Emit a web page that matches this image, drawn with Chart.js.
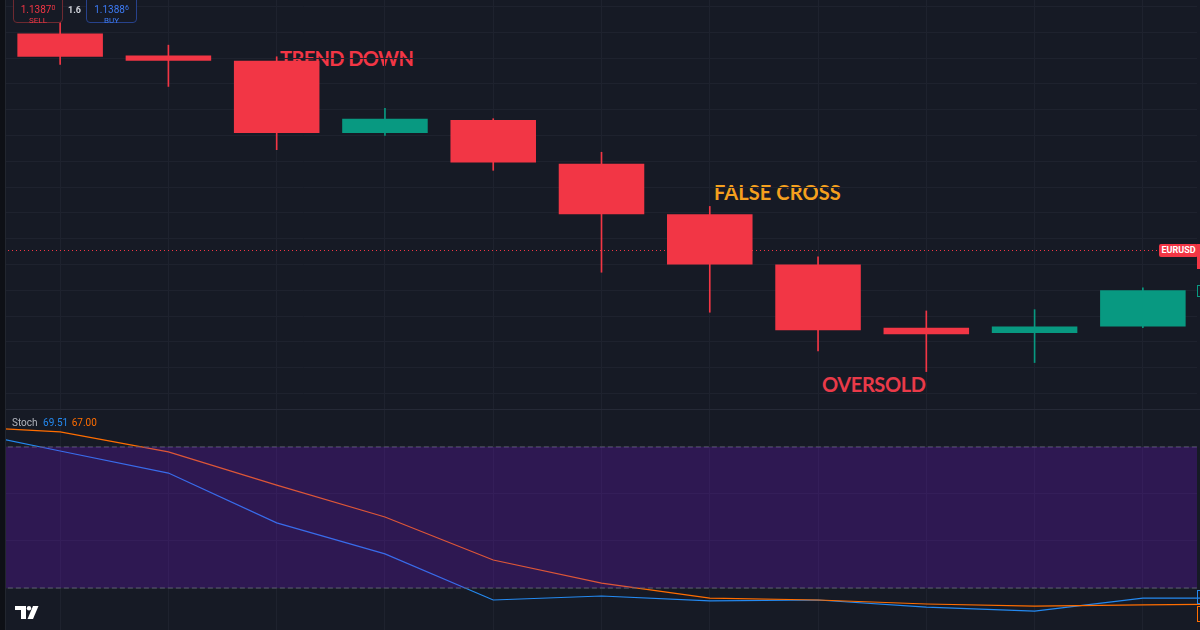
<!DOCTYPE html>
<html>
<head>
<meta charset="utf-8">
<script src="https://cdn.jsdelivr.net/npm/chart.js@4"></script>
<style>
  html, body { margin: 0; padding: 0; }
  body { width: 1200px; height: 630px; background: #161a25; position: relative; overflow: hidden; font-family: Roboto, sans-serif; }
  .painel { position: absolute; left: 0; width: 1200px; z-index: 1; }
  #painelPreco { top: 0; height: 409px; }
  #painelStoch { top: 410px; height: 220px; }
  .sep { position: absolute; left: 0; top: 409px; width: 1200px; height: 1px; background: #252936; }
  .nota { position: absolute; z-index: 0; font-family: Lato, sans-serif; font-weight: 700; font-size: 20px; line-height: 20px; white-space: nowrap; }
  .caixa { position: absolute; top: -6px; height: 27px; border: 1px solid; border-radius: 0 0 4px 4px; text-align: center; z-index: 2; background: #161a25; }
  .caixa .v { font-size: 10px; line-height: 10px; margin-top: 8px; }
  .caixa .v sup { font-size: 7px; vertical-align: 3px; }
  .caixa .t { font-size: 8px; line-height: 9px; margin-top: 1px; }
  .cima { position: absolute; z-index: 2; }
</style>
</head>
<body>

<div class="nota" style="left:280px; top:48px; color:#f23645; letter-spacing:-0.6px;">TREND DOWN</div>
<div class="nota" style="left:714px; top:182px; color:#f5a01e; letter-spacing:0.1px;">FALSE CROSS</div>
<div class="nota" style="left:822px; top:374px; color:#ea3a49; letter-spacing:-0.4px;">OVERSOLD</div>

<div class="painel" id="painelPreco"><canvas id="grafPreco"></canvas></div>
<div class="sep"></div>
<div class="painel" id="painelStoch"><canvas id="grafStoch"></canvas></div>

<!-- botoes de ordem -->
<div class="caixa" style="left:13px; width:48px; border-color:#6e2a31; color:#f23645;">
  <div class="v">1.1387<sup>0</sup></div><div class="t">SELL</div>
</div>
<div class="cima" style="left:68px; top:5px; font-size:9px; font-weight:700; color:#d1d4dc;">1.6</div>
<div class="caixa" style="left:86px; width:49px; border-color:#27428c; color:#3d7bf5;">
  <div class="v">1.1388<sup>6</sup></div><div class="t">BUY</div>
</div>

<!-- etiqueta do preco -->
<div class="cima" style="left:1159px; top:244px; width:39px; height:13px; background:#f23645; border-radius:2px; color:#fff; font-size:9px; font-weight:700; line-height:13px; text-align:center;">EURUSD</div>
<div class="cima" style="left:1197px; top:244px; width:3px; height:25px; background:#f23645;"></div>
<div class="cima" style="left:1197px; top:285px; width:3px; height:12px; border:1px solid #089981; border-right:none; box-sizing:border-box;"></div>
<div class="cima" style="left:1197px; top:590px; width:3px; height:14px; border:1px solid #2489f0; border-right:none; box-sizing:border-box;"></div>
<div class="cima" style="left:1197px; top:606px; width:3px; height:16px; border:1px solid #ff6d00; border-right:none; box-sizing:border-box;"></div>

<!-- legenda do stoch -->
<div class="cima" style="left:12px; top:417px; font-size:10px; line-height:12px; color:#b2b5be;">
  Stoch <span style="color:#2489f0; margin-left:3px;">69.51</span> <span style="color:#ff6d00; margin-left:1px;">67.00</span>
</div>

<!-- borda esquerda -->
<div class="cima" style="left:0; top:0; width:5px; height:630px; background:#0e1016;"></div>
<div class="cima" style="left:5px; top:0; width:1px; height:630px; background:#22262f;"></div>

<!-- logo -->
<svg class="cima" style="left:15px; top:606px;" width="24" height="14" viewBox="0 0 24 14">
  <path d="M0 0 H11 V13 H6 V4 H0 Z" fill="#fff"/>
  <circle cx="14" cy="2.2" r="2.2" fill="#fff"/>
  <path d="M18 0 H23.5 L18 13 H12.5 Z" fill="#fff"/>
</svg>

<script>
// velas ------------------------------------------------------------------
const labels = ['1', '2', '3', '4', '5', '6', '7', '8', '9', '10', '11'];
const abertura = [1.14039, 1.14022, 1.14018, 1.13962, 1.13972, 1.13938, 1.13899, 1.13860, 1.13811, 1.13807, 1.13812];
const fechamento = [1.14021, 1.14018, 1.13962, 1.13973, 1.13939, 1.13899, 1.13860, 1.13809, 1.13806, 1.13812, 1.13840];
const maxima = [1.14051, 1.14030, 1.14021, 1.13981, 1.13973, 1.13947, 1.13905, 1.13866, 1.13824, 1.13825, 1.13842];
const minima = [1.14015, 1.13998, 1.13949, 1.13960, 1.13933, 1.13854, 1.13823, 1.13793, 1.13777, 1.13784, 1.13811];
const precoAtual = 1.13871;
const gradePreco = [1.1376, 1.1378, 1.1380, 1.1382, 1.1384, 1.1386, 1.1388, 1.1390, 1.1392, 1.1394, 1.1396, 1.1398, 1.1400, 1.1402, 1.1404, 1.1406];

// stoch ------------------------------------------------------------------
const stochX = [-1, 0, 1, 2, 3, 4, 5, 6, 7, 8, 9, 10, 11];
const stochK = [87.7, 78.3, 68.9, 47.7, 34.5, 14.9, 16.6, 14.5, 14.9, 11.9, 10.2, 15.7, 15.7];
const stochD = [88.9, 86.4, 77.9, 63.8, 50.2, 31.9, 22.1, 15.7, 14.9, 13.2, 12.3, 12.8, 13.2];
const faixaX = [-1, 11];
const faixaSup = [80, 80];
const faixaInf = [20, 20];
const gradeStoch = [20, 40, 60, 80];
const gradeX = [0, 1, 2, 3, 4, 5, 6, 7, 8, 9, 10];

const VERMELHO = '#f23645';
const VERDE = '#089981';
const GRADE = '#1e222e';

const cores = abertura.map((a, i) => fechamento[i] >= a ? VERDE : VERMELHO);

function juntaPontos(xs, ys) {
  return xs.map((x, i) => ({ x: x, y: ys[i] }));
}

// linha pontilhada do preco atual
const linhaPreco = {
  id: 'linhaPreco',
  beforeDatasetsDraw(chart) {
    const ctx = chart.ctx;
    const y = Math.round(chart.scales.y.getPixelForValue(precoAtual)) + 0.5;
    ctx.save();
    ctx.strokeStyle = VERMELHO;
    ctx.lineWidth = 1;
    ctx.setLineDash([1, 3]);
    ctx.beginPath();
    ctx.moveTo(0, y);
    ctx.lineTo(1159, y);
    ctx.stroke();
    ctx.restore();
  }
};

Chart.defaults.animation = false;
Chart.defaults.plugins.legend.display = false;
Chart.defaults.plugins.tooltip.enabled = false;

const graficoPreco = new Chart(document.getElementById('grafPreco'), {
  type: 'bar',
  data: {
    labels: labels,
    datasets: [{
      label: 'corpo',
      data: abertura.map((a, i) => [a, fechamento[i]]),
      backgroundColor: cores,
      borderWidth: 0,
      barPercentage: 0.79,
      categoryPercentage: 1,
      grouped: false,
      order: 0
    }, {
      label: 'pavio',
      data: minima.map((m, i) => [m, maxima[i]]),
      backgroundColor: cores,
      borderWidth: 0,
      barThickness: 1,
      grouped: false,
      order: 1
    }]
  },
  options: {
    responsive: true,
    maintainAspectRatio: false,
    layout: { padding: { left: 6, right: 3, top: 0, bottom: 0 } },
    scales: {
      x: {
        grid: { color: GRADE, offset: false, drawTicks: false },
        border: { display: false },
        ticks: { display: false }
      },
      y: {
        min: 1.13748,
        max: 1.14065,
        afterBuildTicks: (escala) => { escala.ticks = gradePreco.map(v => ({ value: v })); },
        grid: { color: GRADE, drawTicks: false },
        border: { display: false },
        ticks: { display: false }
      }
    }
  },
  plugins: [linhaPreco]
});

const graficoStoch = new Chart(document.getElementById('grafStoch'), {
  type: 'line',
  data: {
    datasets: [{
      label: '%K',
      data: juntaPontos(stochX, stochK),
      borderColor: '#2489f0',
      borderWidth: 1.2,
      pointRadius: 0,
      clip: false,
      order: 3
    }, {
      label: '%D',
      data: juntaPontos(stochX, stochD),
      borderColor: '#ff6d00',
      borderWidth: 1.2,
      pointRadius: 0,
      clip: false,
      order: 2
    }, {
      label: 'sup',
      data: juntaPontos(faixaX, faixaSup),
      borderColor: '#5d5f70',
      borderWidth: 1,
      borderDash: [5, 3],
      pointRadius: 0,
      order: 1
    }, {
      label: 'inf',
      data: juntaPontos(faixaX, faixaInf),
      borderColor: '#5d5f70',
      borderWidth: 1,
      borderDash: [5, 3],
      pointRadius: 0,
      fill: { target: 2 },
      backgroundColor: 'rgba(120, 20, 220, 0.25)',
      order: 0
    }]
  },
  options: {
    responsive: true,
    maintainAspectRatio: false,
    layout: { padding: { left: 6, right: 3, top: 0, bottom: 0 } },
    scales: {
      x: {
        type: 'linear',
        min: -0.5,
        max: 10.5,
        afterBuildTicks: (escala) => { escala.ticks = gradeX.map(v => ({ value: v })); },
        grid: { color: GRADE, drawTicks: false },
        border: { display: false },
        ticks: { display: false }
      },
      y: {
        min: 2.13,
        max: 95.74,
        afterBuildTicks: (escala) => { escala.ticks = gradeStoch.map(v => ({ value: v })); },
        grid: { color: GRADE, drawTicks: false },
        border: { display: false },
        ticks: { display: false }
      }
    }
  }
});
</script>
</body>
</html>
